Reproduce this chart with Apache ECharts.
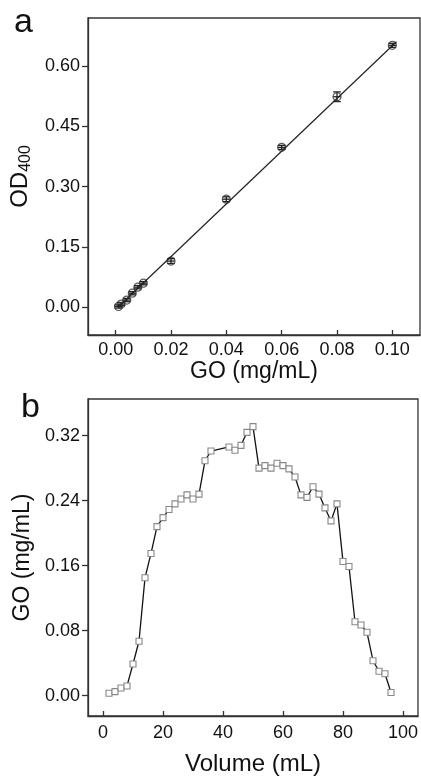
<!DOCTYPE html>
<html>
<head>
<meta charset="utf-8">
<script src="https://cdn.jsdelivr.net/npm/echarts@6/dist/echarts.min.js"></script>
<style>
  html, body { margin: 0; padding: 0; background: #fff; }
  #chart { width: 421px; height: 778px; }
</style>
</head>
<body>
<div id="chart"></div>
<script>
// panel a: calibration
const concA = [0.001, 0.002, 0.004, 0.006, 0.008, 0.010, 0.02, 0.04, 0.06, 0.08, 0.10]
const odA = [0.002, 0.008, 0.018, 0.035, 0.050, 0.060, 0.115, 0.269, 0.398, 0.524, 0.652]
const odErr = [0.004, 0.004, 0.004, 0.004, 0.004, 0.004, 0.006, 0.006, 0.005, 0.012, 0.005]
const fitX = [0.0008, 0.1015]
const fitY = [0.0, 0.661]
const ticksAx = [0, 0.02, 0.04, 0.06, 0.08, 0.10]
const ticksAy = [0, 0.15, 0.30, 0.45, 0.60]

// panel b: elution profile
const volume = [2, 4, 6, 8, 10, 12, 14, 16, 18, 20, 22, 24, 26, 28, 30, 32, 34, 36,
  42, 44, 46, 48, 50, 52, 54, 56, 58, 60, 62, 64, 66, 68, 70, 72, 74, 76, 78,
  80, 82, 84, 86, 88, 90, 92, 94, 96]
const goConc = [0.003, 0.005, 0.0095, 0.012, 0.039, 0.067, 0.145, 0.175, 0.208, 0.219,
  0.229, 0.236, 0.242, 0.247, 0.242, 0.248, 0.289, 0.301,
  0.306, 0.302, 0.308, 0.324, 0.331, 0.280, 0.283, 0.280, 0.286, 0.283, 0.279, 0.269,
  0.247, 0.244, 0.257, 0.248, 0.231, 0.215, 0.236,
  0.165, 0.159, 0.091, 0.087, 0.078, 0.043, 0.030, 0.027, 0.004]
const ticksBx = [0, 20, 40, 60, 80, 100]
const ticksBy = [0, 0.08, 0.16, 0.24, 0.32]

const FONT = 'Liberation Sans, Arial, sans-serif'
const AXIS = '#333'

const chart = echarts.init(document.getElementById('chart'))

const axisBase = (extra) => Object.assign({
  type: 'value',
  splitLine: { show: false },
  axisLine: { show: true, onZero: false, lineStyle: { color: AXIS, width: 1.3 } },
  nameLocation: 'middle',
  nameTextStyle: { fontFamily: FONT, fontSize: 23, color: '#111' }
}, extra)

const option = {
  animation: false,
  backgroundColor: '#fff',
  grid: [
    { left: 88, top: 18, width: 332, height: 317, show: true, borderColor: AXIS, borderWidth: 1.3 },
    { left: 88, top: 399, width: 332, height: 317, show: true, borderColor: AXIS, borderWidth: 1.3 }
  ],
  xAxis: [
    axisBase({
      gridIndex: 0, min: -0.01, max: 0.11,
      name: 'GO (mg/mL)', nameGap: 22,
      axisTick: { inside: true, length: 5, customValues: ticksAx, lineStyle: { color: AXIS, width: 1.3 } },
      axisLabel: { customValues: ticksAx, margin: 6, fontFamily: FONT, fontSize: 18, color: '#111',
        formatter: v => v.toFixed(2) }
    }),
    axisBase({
      gridIndex: 1, min: -5, max: 105,
      name: 'Volume (mL)', nameGap: 36, nameTextStyle: { fontFamily: FONT, fontSize: 24, color: '#111' },
      axisTick: { inside: true, length: 5, customValues: ticksBx, lineStyle: { color: AXIS, width: 1.3 } },
      axisLabel: { customValues: ticksBx, margin: 8, fontFamily: FONT, fontSize: 18, color: '#111',
        formatter: v => String(Math.round(v)) }
    })
  ],
  yAxis: [
    axisBase({
      gridIndex: 0, min: -0.069, max: 0.72,
      name: '{a|OD}{s|400}', nameGap: 52,
      nameTextStyle: {
        fontFamily: FONT, fontSize: 23, color: '#111',
        rich: {
          a: { fontFamily: FONT, fontSize: 24, color: '#111' },
          s: { fontFamily: FONT, fontSize: 16, color: '#111', padding: [12, 0, 0, 0] }
        }
      },
      axisTick: { inside: false, length: 6, customValues: ticksAy, lineStyle: { color: AXIS, width: 1.3 } },
      axisLabel: { customValues: ticksAy, margin: 8, fontFamily: FONT, fontSize: 18, color: '#111',
        formatter: v => v.toFixed(2) }
    }),
    axisBase({
      gridIndex: 1, min: -0.025, max: 0.365,
      name: 'GO (mg/mL)', nameGap: 48, nameTextStyle: { fontFamily: FONT, fontSize: 23, color: '#111' },
      axisTick: { inside: false, length: 6, customValues: ticksBy, lineStyle: { color: AXIS, width: 1.3 } },
      axisLabel: { customValues: ticksBy, margin: 8, fontFamily: FONT, fontSize: 18, color: '#111',
        formatter: v => v.toFixed(2) }
    })
  ],
  graphic: [
    { type: 'text', left: 14, top: 6, style: { text: 'a', font: '34px ' + FONT, fill: '#111' } },
    { type: 'text', left: 21, top: 391, style: { text: 'b', font: '34px ' + FONT, fill: '#111' } }
  ],
  series: [
    {
      name: 'fit', type: 'line', xAxisIndex: 0, yAxisIndex: 0,
      data: fitX.map((x, i) => [x, fitY[i]]),
      symbol: 'none', lineStyle: { color: '#222', width: 1.2 }, silent: true
    },
    {
      name: 'err', type: 'custom', xAxisIndex: 0, yAxisIndex: 0,
      data: concA.map((x, i) => [x, odA[i] - odErr[i], odA[i] + odErr[i]]),
      renderItem: (params, api) => {
        const lo = api.coord([api.value(0), api.value(1)])
        const hi = api.coord([api.value(0), api.value(2)])
        const c = api.coord([api.value(0), (api.value(1) + api.value(2)) / 2])
        const w = 3.8
        const st = { stroke: '#222', lineWidth: 1.3 }
        return {
          type: 'group',
          children: [
            { type: 'line', shape: { x1: lo[0], y1: lo[1], x2: hi[0], y2: hi[1] }, style: st },
            { type: 'line', shape: { x1: lo[0] - w, y1: lo[1], x2: lo[0] + w, y2: lo[1] }, style: st },
            { type: 'line', shape: { x1: hi[0] - w, y1: hi[1], x2: hi[0] + w, y2: hi[1] }, style: st },
            { type: 'line', shape: { x1: c[0] - w, y1: c[1], x2: c[0] + w, y2: c[1] }, style: st }
          ]
        }
      },
      silent: true
    },
    {
      name: 'OD', type: 'scatter', xAxisIndex: 0, yAxisIndex: 0,
      data: concA.map((x, i) => [x, odA[i]]),
      symbol: 'circle', symbolSize: 8,
      itemStyle: { color: 'rgba(255,255,255,0)', borderColor: '#333', borderWidth: 1.2 }
    },
    {
      name: 'GO', type: 'line', xAxisIndex: 1, yAxisIndex: 1,
      data: volume.map((v, i) => [v, goConc[i]]),
      symbol: 'rect', symbolSize: 6, showAllSymbol: true,
      lineStyle: { color: '#111', width: 1.3 },
      itemStyle: { color: '#fff', borderColor: '#888', borderWidth: 1.1 }
    }
  ]
}

chart.setOption(option)
</script>
</body>
</html>
